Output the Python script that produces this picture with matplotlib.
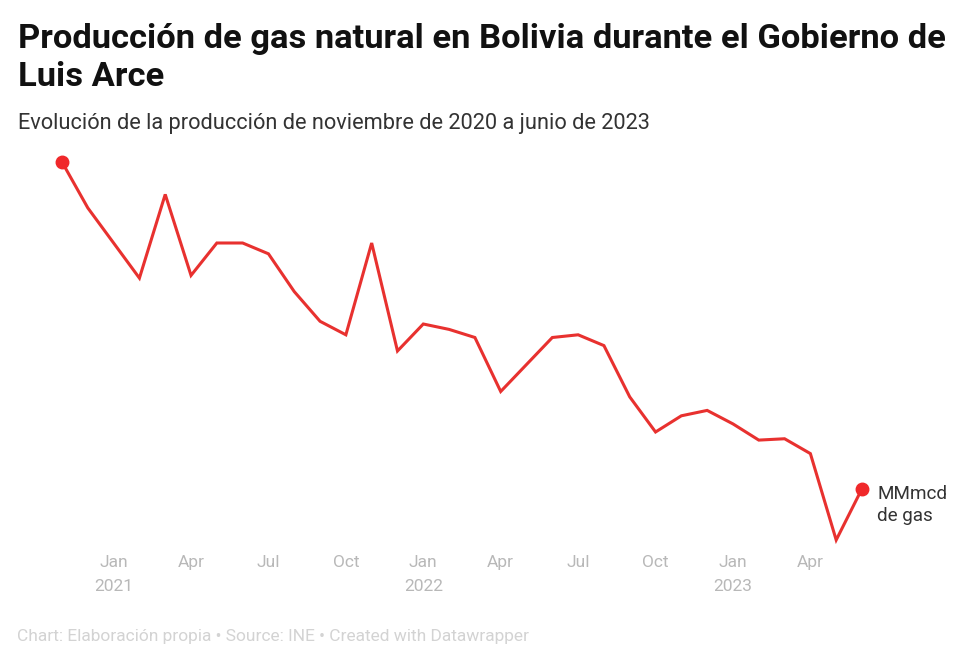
import matplotlib
matplotlib.use("Agg")
import matplotlib.pyplot as plt

months = ["2020-11", "2020-12",
          "2021-01", "2021-02", "2021-03", "2021-04", "2021-05", "2021-06",
          "2021-07", "2021-08", "2021-09", "2021-10", "2021-11", "2021-12",
          "2022-01", "2022-02", "2022-03", "2022-04", "2022-05", "2022-06",
          "2022-07", "2022-08", "2022-09", "2022-10", "2022-11", "2022-12",
          "2023-01", "2023-02", "2023-03", "2023-04", "2023-05", "2023-06"]
production = [47.0, 45.3, 44.0, 42.7, 45.8, 42.8, 44.0, 44.0, 43.6, 42.2,
              41.1, 40.6, 44.0, 40.0, 41.0, 40.8, 40.5, 38.5, 39.5, 40.5,
              40.6, 40.2, 38.3, 37.0, 37.6, 37.8, 37.3, 36.7, 36.75, 36.2,
              33.0, 34.9]
tick_months = ["2021-01", "2021-04", "2021-07", "2021-10", "2022-01", "2022-04",
               "2022-07", "2022-10", "2023-01", "2023-04"]
tick_labels = ["Jan\n2021", "Apr", "Jul", "Oct", "Jan\n2022", "Apr", "Jul",
               "Oct", "Jan\n2023", "Apr"]

title = "Producción de gas natural en Bolivia durante el Gobierno de\nLuis Arce"
subtitle = "Evolución de la producción de noviembre de 2020 a junio de 2023"
footer = "Chart: Elaboración propia • Source: INE • Created with Datawrapper"
series_label = "MMmcd\nde gas"

plt.rcParams['font.family'] = ['Roboto', 'DejaVu Sans']

W, H = 980, 663
fig = plt.figure(figsize=(W / 100, H / 100), dpi=100)
fig.patch.set_facecolor("white")

x = list(range(len(months)))
ax = fig.add_axes([62 / W, 1 - 540 / H, (862 - 62) / W, (540 - 162) / H])
ax.plot(x, production, color="#e8312f", lw=2.2, clip_on=False, solid_joinstyle="miter")
ax.plot([x[0], x[-1]], [production[0], production[-1]], "o", color="#f0282a",
        ms=9, clip_on=False)
ax.set_xlim(x[0], x[-1])
ax.set_ylim(min(production), max(production))
for s in ax.spines.values():
    s.set_visible(False)
ax.set_yticks([])
ax.set_xticks([months.index(m) for m in tick_months])
ax.set_xticklabels(tick_labels, fontsize=12.5, color="#b8b8b8", linespacing=1.75)
ax.tick_params(axis="x", length=0, pad=10.5)
ax.patch.set_alpha(0)

ax.annotate(series_label, xy=(x[-1], production[-1]), xytext=(11, 2.5),
            textcoords="offset points", ha="left", va="top", fontsize=13.6,
            color="#333333", linespacing=1.25)

fig.text(18 / W, 1 - 23 / H, title, ha="left", va="top", fontsize=24.8,
         fontweight="bold", color="#111111", linespacing=1.22)
fig.text(18 / W, 1 - 124 / H, subtitle, ha="left", va="center", fontsize=15.7,
         color="#333333")
fig.text(17 / W, 1 - 636 / H, footer, ha="left", va="center", fontsize=12.5,
         color="#d3d3d3")

fig.savefig("out.png", dpi=100, facecolor="white")
